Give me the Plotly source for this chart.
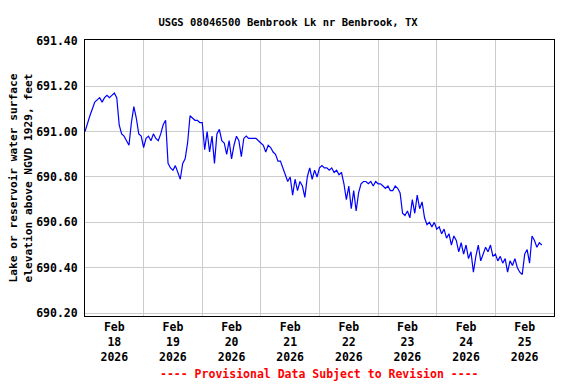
import pandas as pd
import plotly.graph_objects as go

# Hourly gage-height readings (ft, NGVD 1929) starting 2026-02-18 00:00
start_time = "2026-02-18 00:00"
elevation = [
    691.00, 691.04, 691.07, 691.10, 691.13, 691.14, 691.15, 691.13, 691.15, 691.16, 691.15, 691.16,
    691.17, 691.15, 691.03, 690.99, 690.98, 690.96, 690.94, 691.04, 691.11, 691.06, 690.99, 690.98,
    690.93, 690.97, 690.98, 690.96, 690.99, 690.97, 690.96, 690.99, 691.03, 691.05, 690.86, 690.84,
    690.83, 690.85, 690.82, 690.79, 690.86, 690.88, 690.95, 691.07, 691.06, 691.05, 691.05, 691.04,
    691.04, 690.92, 691.00, 690.91, 690.98, 690.86, 690.99, 691.01, 690.96, 690.95, 690.90, 690.96,
    690.88, 690.94, 690.98, 690.96, 690.89, 690.97, 690.98, 690.97, 690.97, 690.97, 690.97, 690.96,
    690.95, 690.94, 690.91, 690.94, 690.93, 690.91, 690.90, 690.87, 690.87, 690.84, 690.81, 690.78,
    690.80, 690.72, 690.79, 690.74, 690.78, 690.76, 690.71, 690.80, 690.84, 690.79, 690.83, 690.80,
    690.84, 690.85, 690.84, 690.84, 690.83, 690.84, 690.82, 690.83, 690.81, 690.82, 690.77, 690.70,
    690.76, 690.66, 690.74, 690.65, 690.73, 690.77, 690.78, 690.78, 690.77, 690.78, 690.76, 690.78,
    690.77, 690.77, 690.76, 690.75, 690.76, 690.74, 690.74, 690.76, 690.75, 690.73, 690.64, 690.63,
    690.65, 690.62, 690.70, 690.64, 690.72, 690.66, 690.69, 690.62, 690.59, 690.60, 690.58, 690.60,
    690.57, 690.58, 690.55, 690.57, 690.53, 690.55, 690.50, 690.54, 690.52, 690.47, 690.51, 690.46,
    690.50, 690.44, 690.47, 690.38, 690.45, 690.50, 690.43, 690.46, 690.49, 690.47, 690.50, 690.45,
    690.46, 690.43, 690.45, 690.42, 690.44, 690.38, 690.43, 690.41, 690.44, 690.40, 690.38, 690.37,
    690.46, 690.48, 690.42, 690.54, 690.52, 690.49, 690.51, 690.50,
]
times = pd.date_range(start_time, periods=len(elevation), freq="h")

tick_days = ["2026-02-18 12:00", "2026-02-19 12:00", "2026-02-20 12:00", "2026-02-21 12:00",
             "2026-02-22 12:00", "2026-02-23 12:00", "2026-02-24 12:00", "2026-02-25 12:00"]
tick_labels = ["Feb<br>18<br>2026", "Feb<br>19<br>2026", "Feb<br>20<br>2026", "Feb<br>21<br>2026",
               "Feb<br>22<br>2026", "Feb<br>23<br>2026", "Feb<br>24<br>2026", "Feb<br>25<br>2026"]
y_ticks = [690.20, 690.40, 690.60, 690.80, 691.00, 691.20, 691.40]
y_tick_labels = ["690.20", "690.40", "690.60", "690.80", "691.00", "691.20", "691.40"]

FONT = "DejaVu Sans Mono"

fig = go.Figure()
fig.add_trace(go.Scatter(x=times, y=elevation, mode="lines",
                         line=dict(color="#0000ff", width=1.2), hoverinfo="skip"))

fig.update_layout(
    width=576, height=384,
    margin=dict(l=85, r=22, t=40, b=68),
    paper_bgcolor="white", plot_bgcolor="white",
    showlegend=False,
    font=dict(family=FONT, size=11.5, color="black", weight="bold"),
    title=dict(text="<b>USGS 08046500 Benbrook Lk nr Benbrook, TX</b>",
               x=0.5, xanchor="center", y=0.942, yanchor="middle",
               font=dict(family=FONT, size=10.5, color="black")),
    xaxis=dict(
        range=["2026-02-18 00:00", "2026-02-26 00:00"],
        tickmode="array", tickvals=tick_days, ticktext=tick_labels,
        showgrid=False, ticks="", showline=True, linecolor="black", linewidth=1, mirror=True,
        tickfont=dict(family=FONT, size=11.5, color="black", weight="bold"),
        minor=dict(tick0="2026-02-18", dtick=86400000, showgrid=True,
                   gridcolor="#cccccc", gridwidth=1, ticks=""),
        zeroline=False, automargin=False,
    ),
    yaxis=dict(
        range=[690.187, 691.404],
        tickmode="array", tickvals=y_ticks, ticktext=y_tick_labels,
        showgrid=True, gridcolor="#cccccc", gridwidth=1,
        ticks="outside", ticklen=4, tickcolor="white",
        showline=True, linecolor="black", linewidth=1, mirror=True,
        tickfont=dict(family=FONT, size=11.5, color="black", weight="bold"),
        title=dict(text="Lake or reservoir water surface<br>elevation above NGVD 1929, feet",
                   font=dict(family=FONT, size=11.2, color="black", weight="bold"), standoff=1),
        zeroline=False, automargin=False,
    ),
)

fig.add_annotation(text="---- Provisional Data Subject to Revision ----",
                   xref="paper", yref="paper", x=0.5, y=-0.21, xanchor="center", yanchor="middle",
                   showarrow=False,
                   font=dict(family=FONT, size=11.5, color="#ff0000", weight="bold"))

fig.write_html("out.html", config={"displayModeBar": False},
               post_script="document.body.style.margin='0px';")
